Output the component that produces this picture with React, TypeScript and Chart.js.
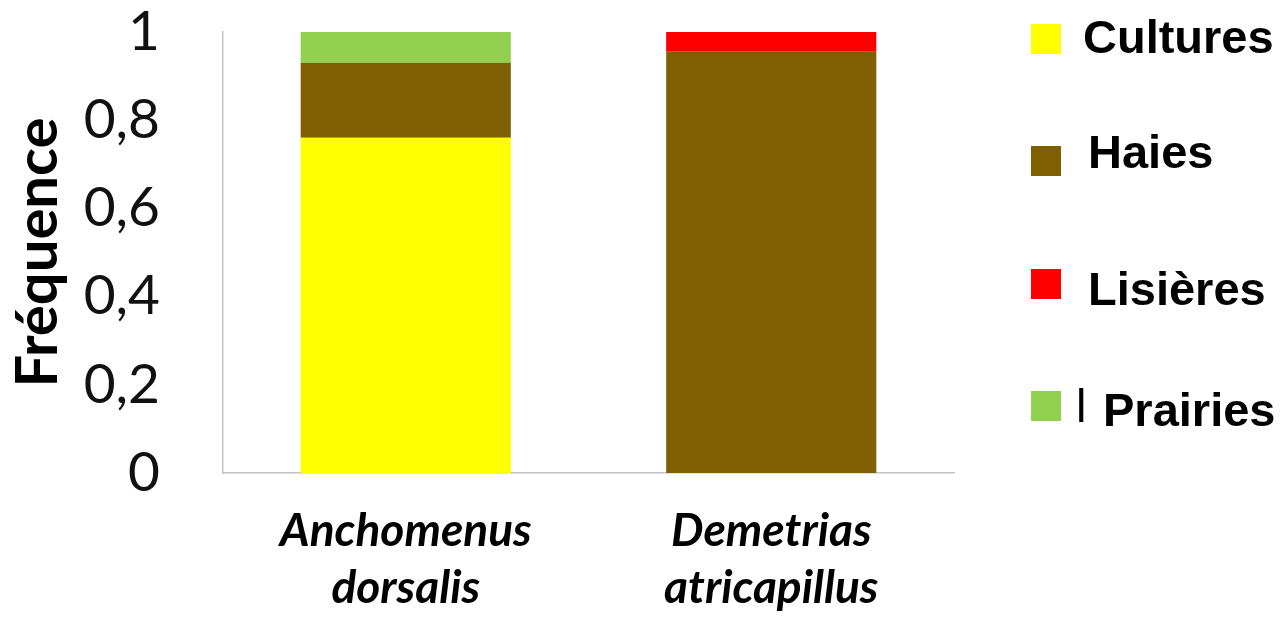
import React, { useEffect, useRef } from "react";
import { Chart, registerables } from "chart.js";

Chart.register(...registerables);

// ---- data ----
const species: string[][] = [
  ["Anchomenus", "dorsalis"],
  ["Demetrias", "atricapillus"],
];
const habitats = ["Cultures", "Haies", "Lisières", "Prairies"];
const cultures = [0.76, 0];
const haies = [0.17, 0.955];
const lisieres = [0, 0.045];
const prairies = [0.07, 0];
const habitatColors = ["#FFFF00", "#7F5F00", "#FF0000", "#92D050"];
const yTicks = [0, 0.2, 0.4, 0.6, 0.8, 1];
const yTickLabels = ["0", "0,2", "0,4", "0,6", "0,8", "1"];
const yTitle = "Fréquence";

// legend placement (layout only)
const legendBoxX = 1031;
const legendBoxSize = 30;
const legendLayout = [
  { boxY: 24, textX: 1083, baseline: 53 },
  { boxY: 146, textX: 1088, baseline: 168 },
  { boxY: 269, textX: 1088, baseline: 305 },
  { boxY: 391, textX: 1103, baseline: 426 },
];

const sideLegend = {
  id: "sideLegend",
  afterDraw(chart: any) {
    const ctx = chart.ctx;
    ctx.save();
    chart.data.datasets.forEach((ds: any, i: number) => {
      const l = legendLayout[i];
      ctx.fillStyle = ds.backgroundColor;
      ctx.fillRect(legendBoxX, l.boxY, legendBoxSize, legendBoxSize);
      ctx.fillStyle = "#000";
      ctx.font = 'bold 47px "Liberation Sans", Arial, sans-serif';
      ctx.textAlign = "left";
      ctx.textBaseline = "alphabetic";
      ctx.fillText(ds.label, l.textX, l.baseline);
    });
    // stray mark before "Prairies"
    ctx.font = '47px "Liberation Sans", Arial, sans-serif';
    ctx.fillText("l", 1076, 422);
    ctx.restore();
  },
};

export default function App() {
  const ref = useRef<HTMLCanvasElement | null>(null);

  useEffect(() => {
    if (!ref.current) return;
    const series = [cultures, haies, lisieres, prairies];
    const chart = new Chart(ref.current, {
      type: "bar",
      data: {
        labels: species,
        datasets: habitats.map((h, i) => ({
          label: h,
          data: series[i],
          backgroundColor: habitatColors[i],
          borderWidth: 0,
          barPercentage: 0.575,
          categoryPercentage: 1,
        })),
      },
      options: {
        responsive: false,
        animation: false,
        layout: { padding: { top: 32, right: 330, left: 0, bottom: 0 } },
        plugins: {
          legend: { display: false },
          tooltip: { enabled: false },
        },
        scales: {
          x: {
            stacked: true,
            grid: { display: false, drawTicks: false },
            border: { display: true, color: "#c4c4c4", width: 1.5 },
            ticks: {
              color: "#000",
              padding: 30,
              maxRotation: 0,
              autoSkip: false,
              font: {
                family: "Lato, 'Open Sans', sans-serif",
                size: 46,
                style: "italic",
                weight: "bold",
                lineHeight: 57 / 46,
              },
            },
            afterFit: (s: any) => {
              s.height = 145;
              s.paddingLeft = 0;
              s.paddingRight = 0;
            },
          },
          y: {
            stacked: true,
            min: 0,
            max: 1,
            afterBuildTicks: (s: any) => {
              s.ticks = yTicks.map((v) => ({ value: v }));
            },
            grid: { display: false, drawTicks: false },
            border: { display: true, color: "#c4c4c4", width: 1.5 },
            ticks: {
              color: "#111",
              padding: 63,
              font: { family: "Lato, 'Open Sans', sans-serif", size: 55, lineHeight: 1 },
              callback: (v: any) => {
                const idx = yTicks.findIndex((t) => Math.abs(t - Number(v)) < 1e-9);
                return idx >= 0 ? yTickLabels[idx] : "";
              },
            },
            title: {
              display: true,
              text: yTitle,
              color: "#000",
              padding: { top: 3, bottom: 0 },
              font: { family: "Lato, 'Open Sans', sans-serif", size: 58, weight: "bold", lineHeight: 1.2 },
            },
            afterFit: (s: any) => {
              s.width = 223;
              s.paddingTop = 0;
              s.paddingBottom = 0;
            },
          },
        },
      },
      plugins: [sideLegend],
    });
    return () => chart.destroy();
  }, []);

  return (
    <div style={{ position: "fixed", left: 0, top: 0, width: 1284, height: 618, background: "#fff" }}>
      <canvas ref={ref} width={1284} height={618} style={{ display: "block" }} />
    </div>
  );
}
